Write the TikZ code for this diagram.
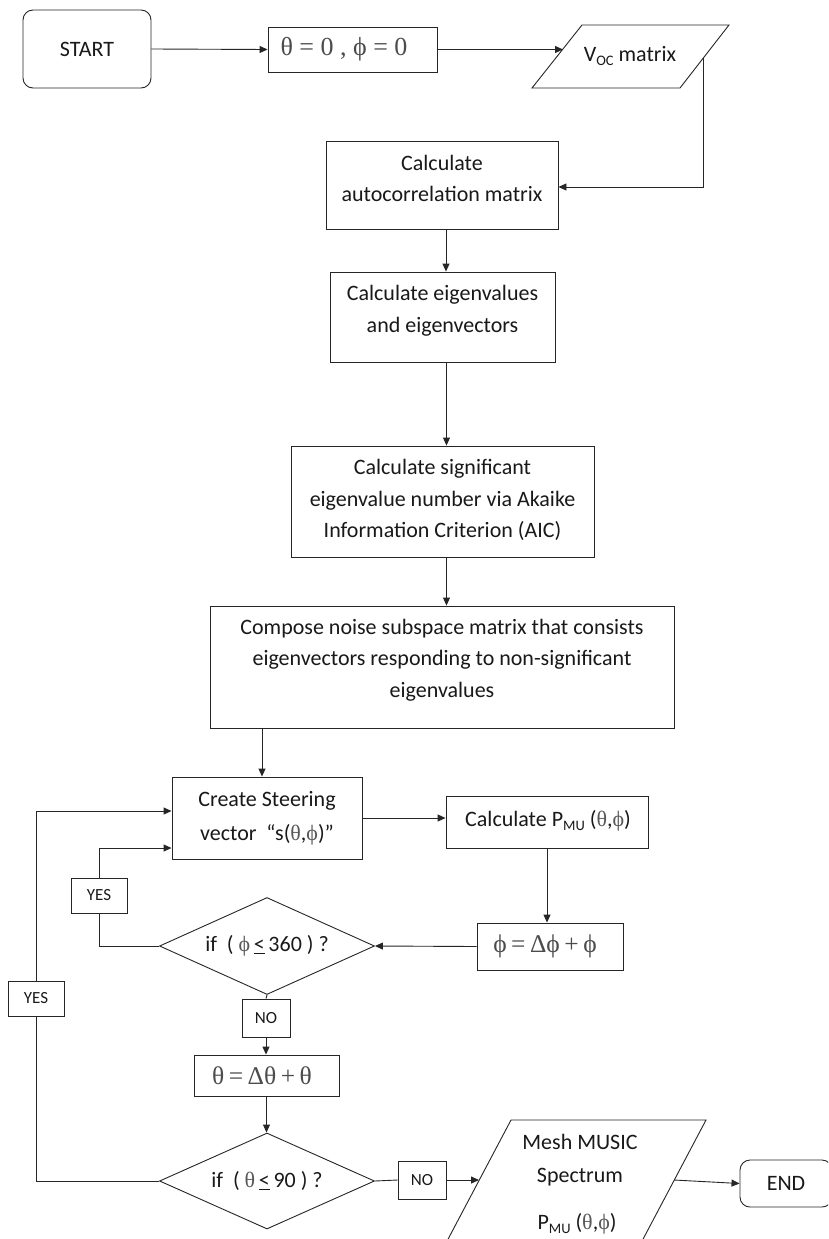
\documentclass[tikz,border=0pt]{standalone}
\usepackage{fontspec}
\setmainfont{Carlito}
\newfontfamily\gk{Liberation Serif}
\usetikzlibrary{arrows.meta,shapes.geometric,calc}
\newcommand\thS{{\gk\color{black!65}θ}}
\newcommand\phS{{\gk\color{black!65}ϕ}}
\newcommand\lowsub[1]{\raisebox{-0.35ex}{\fontsize{14.5}{14.5}\selectfont #1}}
\begin{document}
\begin{tikzpicture}[x=1pt,y=-1pt,
  line/.style={draw=black!85,line width=0.9pt},
  arr/.style={line,-{Triangle[length=8pt,width=7pt]}},
  box/.style={line,rectangle,inner sep=0pt,align=center,font=\fontsize{22}{31}\selectfont,text=black!90},
  rbox/.style={box,rounded corners=10pt},
  lbl/.style={line,rectangle,inner sep=0pt,font=\fontsize{17}{20}\selectfont,text=black!90},
  dec/.style={line,diamond,aspect=2.2,inner sep=0pt,font=\fontsize{22}{26}\selectfont,text=black!90},
  eq/.style={box,font=\gk\fontsize{26}{30}\selectfont,text=black!70},
  eqs/.style={eq,font=\gk\fontsize{25.5}{28}\selectfont},
  ln/.style={inner sep=0pt,anchor=base,font=\fontsize{22}{26}\selectfont,text=black!90}
]
\clip (0,0) rectangle (828,1239);
\fill[white] (0,0) rectangle (828,1239);

% top row
\node[rbox,minimum width=128,minimum height=78] (start) at (87,49) {START};
\node[line,rectangle,inner sep=0pt,minimum width=169,minimum height=45] (init) at (352.5,49.5) {};
\node[eq,draw=none] (initT) at (344,49.5) {θ = 0 , ϕ = 0};
\coordinate (v1) at (582,25);
\coordinate (v2) at (729,25);
\coordinate (v3) at (680,88);
\coordinate (v4) at (532,88);
\draw[line] (v1) -- (v2) -- (v3) -- (v4) -- cycle;
\node[ln] (voc) at (630,61.5) {V\lowsub{OC} matrix};
\coordinate (vocin) at (563,49.5);
\coordinate (vocout) at (703,58);

% main column
\node[box,minimum width=232,minimum height=88] (auto) at (442,185) {};
\node[ln] (auto1) at (442,170.5) {Calculate};
\node[ln] (auto2) at (442,201.5) {autocorrelation matrix};
\node[box,minimum width=225,minimum height=90] (eigen) at (442.5,317) {};
\node[ln] (eig1) at (442.5,300.5) {Calculate eigenvalues};
\node[ln] (eig2) at (442.5,332.5) {and eigenvectors};
\node[box,minimum width=303,minimum height=111] (sig) at (442.5,501.5) {};
\node[ln] (sig1) at (442.5,474.5) {Calculate significant};
\node[ln] (sig2) at (442.5,506.5) {eigenvalue number via Akaike};
\node[ln] (sig3) at (442.5,537.5) {Information Criterion (AIC)};
\node[box,minimum width=464,minimum height=122] (comp) at (442,667) {};
\node[ln] (comp1) at (442,634.5) {Compose noise subspace matrix that consists};
\node[ln] (comp2) at (442,665.5) {eigenvectors responding to non-significant};
\node[ln] (comp3) at (442,697.5) {eigenvalues};

% loop section
\node[box,minimum width=190,minimum height=82] (steer) at (267,818) {};
\node[ln] (st1) at (267,806.5) {Create Steering};
\node[ln] (st2) at (267,840.5) {vector \ “s(\thS,\phS)”};
\node[box,minimum width=202,minimum height=52] (pmu) at (547,822) {};
\node[ln] (pmuT) at (548,826.5) {Calculate P\lowsub{MU} (\thS,\phS)};
\node[eqs,minimum width=146,minimum height=47] (phiu) at (550,946.5) {};
\node[eqs,draw=none] (phiuT) at (545,946.5) {ϕ\hspace{4.5pt}=\hspace{4.5pt}Δϕ\hspace{4.5pt}+\hspace{4.5pt}ϕ};
\node[dec,minimum width=215,minimum height=97] (d1) at (267,946) {if \ ( \phS\,\underline{<}\,360 ) ?};
\node[lbl,minimum width=56,minimum height=35] (yes1) at (99,895.5) {YES};
\node[lbl,minimum width=48,minimum height=38] (no1) at (266,1018) {NO};
\node[eqs,minimum width=145,minimum height=41] (thu) at (266.5,1075.5) {};
\node[eqs,draw=none] (thuT) at (262,1075.5) {θ\hspace{4.5pt}=\hspace{4.5pt}Δθ\hspace{4.5pt}+\hspace{4.5pt}θ};
\node[dec,minimum width=215,minimum height=96] (d2) at (267,1181) {if \ ( \thS\,\underline{<}\,90 ) ?};
\node[lbl,minimum width=56,minimum height=35] (yes2) at (36,998.5) {YES};
\node[lbl,minimum width=48,minimum height=38] (no2) at (422,1180) {NO};

% output parallelogram
\coordinate (m1) at (511,1120);
\coordinate (m2) at (706,1120);
\coordinate (m3) at (632,1260);
\coordinate (m4) at (437,1260);
\draw[line] (m1) -- (m2) -- (m3) -- (m4) -- cycle;
\node[ln] (mesh1) at (580,1149.5) {Mesh MUSIC};
\node[ln] (mesh2) at (580,1182.5) {Spectrum};
\node[ln] (mesh3) at (577,1229.5) {P\lowsub{MU} (\thS,\phS)};
\coordinate (min) at (479,1180);
\coordinate (mout) at (674,1180);
\node[rbox,minimum width=92,minimum height=47] (end) at (786,1183.5) {END};

% connectors
\draw[arr] (start.east) -- (init.west);
\draw[arr] (init.east) -- (vocin);
\draw[arr] (vocout) |- ([yshift=-2pt]auto.east);
\draw[arr] ([xshift=4pt]auto.south) -- ([xshift=4pt]auto.south |- eigen.north);
\draw[arr] ([xshift=4pt]eigen.south) -- ([xshift=4pt]eigen.south |- sig.north);
\draw[arr] ([xshift=4pt]sig.south) -- ([xshift=4pt]sig.south |- comp.north);
\path ([xshift=-5pt]steer.north) coordinate (sn);
\draw[arr] (comp.south -| sn) -- (sn);
\draw[arr] (steer.east) -- (steer.east -| pmu.west);
\draw[arr] (pmu.south) -- (pmu.south |- phiu.north);
\draw[arr] (phiu.west) -- (d1.east);
\draw[line] (d1.west) -| (yes1.south);
\draw[arr] (yes1.north) |- ([yshift=-30pt]steer.west);
\draw[line] (d1.south) -- (no1.north);
\draw[arr] (no1.south) -- (no1.south |- thu.north);
\draw[arr] (thu.south) -- (thu.south |- d2.north);
\draw[line] (d2.west) -| (yes2.south);
\draw[arr] (yes2.north) |- ([yshift=7pt]steer.west);
\draw[line] (d2.east) -- (no2.west);
\draw[arr] (no2.east) -- (min);
\draw[arr] (mout) -- (end.west);
\end{tikzpicture}
\end{document}
